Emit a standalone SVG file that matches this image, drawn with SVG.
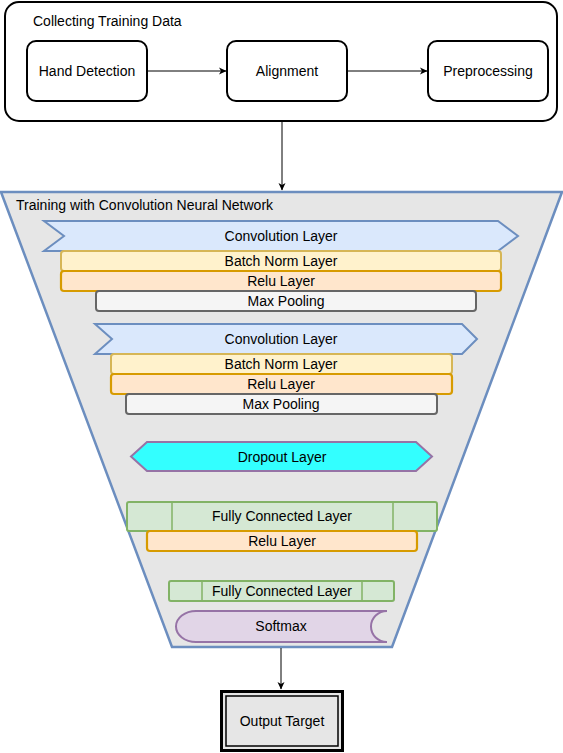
<svg xmlns="http://www.w3.org/2000/svg" width="563" height="753" viewBox="0 0 563 753">
<defs>
<marker id="arr" markerWidth="8" markerHeight="8" refX="7" refY="4" orient="auto" markerUnits="userSpaceOnUse">
<path d="M0,0.5 L7.5,4 L0,7.5 L2,4 Z" fill="#000"/>
</marker>
<style>
text{font-family:"Liberation Sans",Arial,Helvetica,sans-serif;font-size:14px;fill:#000;}
.c{text-anchor:middle;dominant-baseline:central;}
.bx{fill:#fff;stroke:#000;stroke-width:2;}
.conv{fill:#dae8fc;stroke:#6c8ebf;stroke-width:2;}
.bn{fill:#fff2cc;stroke:#d6b656;stroke-width:2;}
.relu{fill:#ffe6cc;stroke:#d79b00;stroke-width:2.2;}
.mp{fill:#f5f5f5;stroke:#666666;stroke-width:2;}
.fc{fill:#d5e8d4;stroke:#82b366;stroke-width:2;}
.fcl{fill:none;stroke:#82b366;stroke-width:1.5;}
.edge{fill:none;stroke:#000;stroke-width:1;}
</style>
</defs>

<g id="collecting">
<rect x="5" y="2" width="552" height="119" rx="14" class="bx"/>
<text x="33" y="21" style="dominant-baseline:central">Collecting Training Data</text>
</g>
<g id="hand">
<rect x="27" y="41" width="120" height="60" rx="9" class="bx"/>
<text x="87" y="71" class="c">Hand Detection</text>
</g>
<g id="alignment">
<rect x="227" y="41" width="120" height="60" rx="9" class="bx"/>
<text x="287" y="71" class="c">Alignment</text>
</g>
<g id="preprocessing">
<rect x="428" y="41" width="120" height="60" rx="9" class="bx"/>
<text x="488" y="71" class="c">Preprocessing</text>
</g>

<g id="cnn">
<path d="M1,192 L562,192 L392,647 L172,647 Z" fill="#e6e6e6" stroke="#6c8ebf" stroke-width="2.5"/>
<text x="16" y="205" style="dominant-baseline:central">Training with Convolution Neural Network</text>
</g>

<g id="conv1">
<path d="M44,221 L498,221 L518,236 L498,251 L44,251 L64,236 Z" class="conv"/>
<text x="281" y="236" class="c">Convolution Layer</text>
</g>
<g id="bn1">
<rect x="61" y="251" width="440" height="20" rx="3" class="bn"/>
<text x="281" y="261" class="c">Batch Norm Layer</text>
</g>
<g id="relu1">
<rect x="61" y="271" width="440" height="20" rx="3" class="relu"/>
<text x="281" y="281" class="c">Relu Layer</text>
</g>
<g id="mp1">
<rect x="96" y="291" width="380" height="20" rx="3" class="mp"/>
<text x="286" y="301" class="c">Max Pooling</text>
</g>

<g id="conv2">
<path d="M95,324 L462,324 L477,339 L462,354 L95,354 L112,339 Z" class="conv"/>
<text x="281" y="339" class="c">Convolution Layer</text>
</g>
<g id="bn2">
<rect x="111" y="354" width="341" height="20" rx="3" class="bn"/>
<text x="281" y="364" class="c">Batch Norm Layer</text>
</g>
<g id="relu2">
<rect x="111" y="374" width="341" height="20" rx="3" class="relu"/>
<text x="281" y="384" class="c">Relu Layer</text>
</g>
<g id="mp2">
<rect x="126" y="394" width="311" height="20" rx="3" class="mp"/>
<text x="281" y="404" class="c">Max Pooling</text>
</g>

<g id="dropout">
<path d="M131,456.5 L147,442 L416,442 L432,456.5 L416,471 L147,471 Z" fill="#33ffff" stroke="#9673a6" stroke-width="2"/>
<text x="282" y="456.5" class="c">Dropout Layer</text>
</g>

<g id="fc1">
<rect x="127" y="502" width="310" height="29" rx="2" class="fc"/>
<line x1="172" y1="502" x2="172" y2="531" class="fcl"/>
<line x1="393" y1="502" x2="393" y2="531" class="fcl"/>
<text x="282" y="515.5" class="c">Fully Connected Layer</text>
</g>
<g id="relu3">
<rect x="147" y="531" width="270" height="20" rx="3" class="relu"/>
<text x="282" y="541" class="c">Relu Layer</text>
</g>

<g id="fc2">
<rect x="169" y="581" width="225" height="20" rx="2" class="fc"/>
<line x1="202" y1="581" x2="202" y2="601" class="fcl"/>
<line x1="362" y1="581" x2="362" y2="601" class="fcl"/>
<text x="282" y="590.5" class="c">Fully Connected Layer</text>
</g>
<g id="softmax">
<path d="M196,611 H387 A16,15.5 0 0 0 387,642 H196 A20,15.5 0 0 1 196,611 Z" fill="#e1d5e7" stroke="#9673a6" stroke-width="2"/>
<text x="281" y="626" class="c">Softmax</text>
</g>

<g id="output">
<rect x="221.5" y="691.5" width="121" height="59" fill="#e6e6e6" stroke="#000" stroke-width="3"/>
<rect x="226" y="696" width="112" height="50" fill="none" stroke="#000" stroke-width="1.5"/>
<text x="282" y="721" class="c">Output Target</text>
</g>

<g id="connectors">
<line x1="147" y1="71" x2="226" y2="71" class="edge" marker-end="url(#arr)"/>
<line x1="347" y1="71" x2="427" y2="71" class="edge" marker-end="url(#arr)"/>
<line x1="282" y1="121" x2="282" y2="190" class="edge" marker-end="url(#arr)"/>
<line x1="281" y1="648" x2="281" y2="689" class="edge" marker-end="url(#arr)"/>
</g>
</svg>
